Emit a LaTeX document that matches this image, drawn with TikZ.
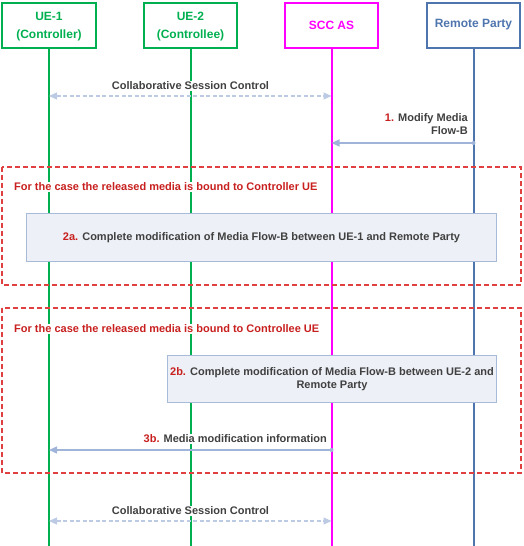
\documentclass[tikz,border=0pt]{standalone}
\usepackage{fontspec}
\setmainfont{Liberation Sans}
\usetikzlibrary{arrows,arrows.meta,positioning}

\definecolor{uegreen}{HTML}{00B050}
\definecolor{sccpink}{HTML}{FF00FF}
\definecolor{rpblue}{HTML}{4F75AE}
\definecolor{msgline}{HTML}{9FB4D8}
\definecolor{ctlline}{HTML}{BCCAE3}
\definecolor{casered}{HTML}{C8201F}
\definecolor{boxred}{HTML}{E04040}
\definecolor{msgtext}{HTML}{404040}
\definecolor{procfill}{HTML}{EDF0F6}
\definecolor{procline}{HTML}{A7BBD9}

\begin{document}
\begin{tikzpicture}[x=1pt,y=-1pt,>={Triangle[length=8pt,width=7pt]},
      font=\fontsize{11}{13}\selectfont\bfseries,
      entity/.style={draw,line width=2pt,minimum height=45pt,align=center,
        inner sep=0pt,font=\fontsize{12}{18}\selectfont\bfseries},
      life/.style={line width=2pt},
      msg/.style={msgline,line width=1.4pt,->},
      ctl/.style={ctlline,line width=1.2pt,dash pattern=on 4pt off 2.5pt,<->},
      lbl/.style={fill=white,inner sep=1pt,text=msgtext},
      casebox/.style={boxred,line width=1.3pt,dash pattern=on 5pt off 3pt},
      casetext/.style={fill=white,inner sep=1pt,text=casered,anchor=west},
      proc/.style={draw=procline,fill=procfill,line width=1.3pt,text=msgtext,
        align=center,inner sep=0pt}]

    \useasboundingbox (0,0) rectangle (523,546);

    % entities
    \node[entity,uegreen,minimum width=94pt] (ue1) at (49,25) {\rule{0pt}{12pt}UE-1\\(Controller)};
    \node[entity,uegreen,minimum width=93pt] (ue2) at (190.5,25) {\rule{0pt}{12pt}UE-2\\(Controllee)};
    \node[entity,sccpink,minimum width=93pt] (scc) at (331.5,25) {SCC AS};
    \node[entity,rpblue,minimum width=93pt] (rp) at (473.5,25) {Remote Party};

    % lifelines
    \draw[life,uegreen] (ue1.south) -- (ue1.south |- 0,546);
    \draw[life,uegreen] (ue2.south) -- (ue2.south |- 0,546);
    \draw[life,sccpink] (scc.south) -- (scc.south |- 0,546);
    \draw[life,rpblue] (rp.south) -- (rp.south |- 0,546);

    % collaborative session control
    \coordinate (c1a) at (ue1.south |- 0,96);
    \coordinate (c1b) at (scc.south |- 0,96);
    \draw[ctl] (c1a) -- (c1b);
    \node[lbl] (c1) at (190.5,86) {Collaborative Session Control};

    % 1. modify media
    \coordinate (m1a) at (rp.south |- 0,143);
    \coordinate (m1b) at (scc.south |- 0,143);
    \draw[msg] (m1a) -- (m1b);
    \fill[msgline] (m1a) circle (2);
    \node[lbl,align=right,anchor=east] (m1) at (469,124.5)
      {\textcolor{casered}{1.} Modify Media\\Flow-B};

    % case: controller
    \draw[casebox] (2,167) rectangle (521,285);
    \node[casetext] (casea) at (13,187) {For the case the released media is bound to Controller UE};
    \node[proc,minimum width=470pt,minimum height=48pt] (p2a) at (261.5,237.5)
      {\textcolor{casered}{2a.} Complete modification of Media Flow-B between UE-1 and Remote Party};

    % case: controllee
    \draw[casebox] (2,308) rectangle (521,473);
    \node[casetext] (caseb) at (13,329) {For the case the released media is bound to Controllee UE};
    \node[proc,minimum width=329pt,minimum height=47pt] (p2b) at (332,379)
      {\textcolor{casered}{2b.} Complete modification of Media Flow-B between UE-2 and\\Remote Party};

    % 3b. media modification information
    \coordinate (m3a) at (scc.south |- 0,450);
    \coordinate (m3b) at (ue1.south |- 0,450);
    \draw[msg] (m3a) -- (m3b);
    \fill[msgline] (m3a) circle (2);
    \node[lbl,anchor=east] (m3) at (328,439)
      {\textcolor{casered}{3b.} Media modification information};

    % collaborative session control
    \coordinate (c2a) at (ue1.south |- 0,521);
    \coordinate (c2b) at (scc.south |- 0,521);
    \draw[ctl] (c2a) -- (c2b);
    \node[lbl] (c2) at (190.5,511) {Collaborative Session Control};
  \end{tikzpicture}
\end{document}
